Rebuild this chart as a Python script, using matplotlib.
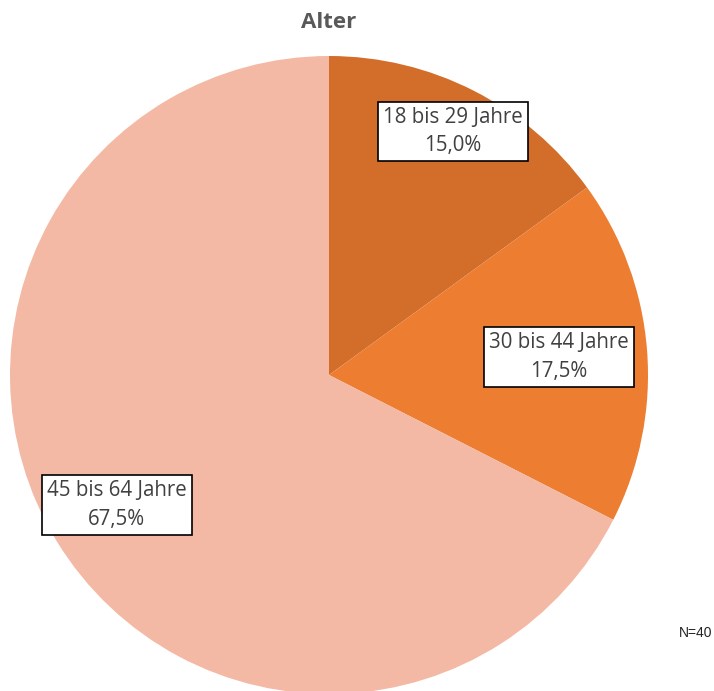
import matplotlib
matplotlib.use("Agg")
import matplotlib.pyplot as plt
import numpy as np

categories = ["18 bis 29 Jahre", "30 bis 44 Jahre", "45 bis 64 Jahre"]
values = [15.0, 17.5, 67.5]
colors = ["#D36D2A", "#ED7D31", "#F4B9A5"]
label_radius = [0.857, 0.723, 0.78]

W, H = 714, 691
fig = plt.figure(figsize=(W / 100, H / 100), dpi=100)
cx, cy, r = 329, 375, 319
ax = fig.add_axes([(cx - r) / W, (H - cy - r) / H, 2 * r / W, 2 * r / H])
ax.axis("off")

wedges, _ = ax.pie(values, colors=colors, startangle=90, counterclock=False,
                   radius=1, wedgeprops=dict(linewidth=0))
ax.set_xlim(-1, 1)
ax.set_ylim(-1, 1)
ax.set_aspect("auto")

for w, cat, v, lr in zip(wedges, categories, values, label_radius):
    ang = np.deg2rad((w.theta1 + w.theta2) / 2)
    txt = f"{cat}\n{v:.1f}%".replace(".", ",")
    ax.text(lr * np.cos(ang), lr * np.sin(ang), txt, ha="center", va="center",
            fontsize=14.8, color="#404040", family="Open Sans", linespacing=1.45,
            bbox=dict(boxstyle="square,pad=0.25", facecolor="white",
                      edgecolor="black", linewidth=1.2))

fig.text(329 / W, 1 - 22 / H, "Alter", ha="center", va="center", fontsize=16,
         fontweight="bold", color="#595959", family="Open Sans")
fig.text(712 / W, 1 - 633 / H, "N=40", ha="right", va="center", fontsize=10,
         color="#222222", family="Liberation Sans")

fig.savefig("out.png", dpi=100)
